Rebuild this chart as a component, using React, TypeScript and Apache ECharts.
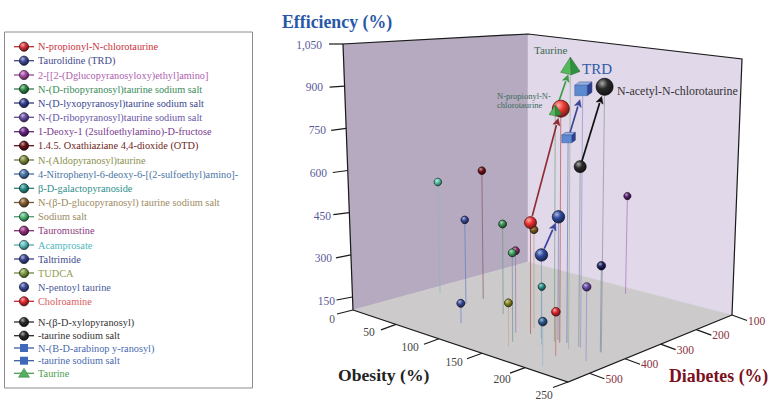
import React, { useEffect, useRef } from "react";
import * as echarts from "echarts";

const FONT = '"Liberation Serif", "Times New Roman", serif';

// ---------- values ----------
const efficiencyTicks = [0, 150, 300, 450, 600, 750, 900, 1050];
const obesityTicks = [0, 50, 100, 150, 200, 250];
const diabetesTicks = [100, 200, 300, 400, 500];

const pointNames = [
  "Acamprosate",
  "1.4.5. Oxathiaziane 4,4-dioxide (OTD)",
  "N-(D-lyxopyranosyl)taurine sodium salt",
  "N-pentoyl taurine",
  "N-(D-ribopyranosyl)taurine sodium salt (green)",
  "N-(Aldopyranosyl)taurine",
  "Tauromustine",
  "Sodium salt",
  "N-(β-D-glucopyranosyl) taurine sodium salt",
  "N-propionyl-N-chlorotaurine start",
  "Taurolidine start",
  "β-D-galactopyranoside",
  "4-Nitrophenyl-6-deoxy-6-[(2-sulfoethyl)amino]-",
  "Cholroamine",
  "N-(D-ribopyranosyl)taurine sodium salt (violet)",
  "Taltrimide",
  "1-Deoxy-1 (2sulfoethylamino)-D-fructose",
  "Taurolidine (TRD)",
  "N-acetyl-N-chlorotaurine start",
  "TRD start",
  "TRD",
  "N-acetyl-N-chlorotaurine",
  "N-propionyl-N-chlorotaurine",
  "Taurine start",
  "Taurine",
];
const obesityValues = [14, 51, 51, 85, 93, 155, 135, 149, 137, 146, 160, 172, 208, 200, 228, 222, 133, 174, 199, 185, 202, 224, 180, 175, 196];
const diabetesValues = [362, 330, 376, 466, 371, 499, 433, 474, 388, 418, 421, 448, 530, 475, 457, 403, 130, 408, 409, 409, 411, 405, 417, 420, 430];
const efficiencyValues = [521, 582, 413, 174, 429, 251, 388, 406, 448, 489, 389, 300, 247, 250, 348, 393, 481, 526, 714, 800, 975, 996, 902, 889, 1050];

const arrowFrom = ["N-propionyl-N-chlorotaurine start", "Taurolidine start", "N-acetyl-N-chlorotaurine start", "TRD start", "Taurine start"];
const arrowTo = ["N-propionyl-N-chlorotaurine", "Taurolidine (TRD)", "N-acetyl-N-chlorotaurine", "TRD", "Taurine"];

const legendNames = [
  "N-propionyl-N-chlorotaurine",
  "Taurolidine (TRD)",
  "2-[[2-(Dglucopyranosyloxy)ethyl]amino]",
  "N-(D-ribopyranosyl)taurine sodium salt",
  "N-(D-lyxopyranosyl)taurine sodium salt",
  "N-(D-ribopyranosyl)taurine sodium salt",
  "1-Deoxy-1 (2sulfoethylamino)-D-fructose",
  "1.4.5. Oxathiaziane 4,4-dioxide (OTD)",
  "N-(Aldopyranosyl)taurine",
  "4-Nitrophenyl-6-deoxy-6-[(2-sulfoethyl)amino]-",
  "β-D-galactopyranoside",
  "N-(β-D-glucopyranosyl) taurine sodium salt",
  "Sodium salt",
  "Tauromustine",
  "Acamprosate",
  "Taltrimide",
  "TUDCA",
  "N-pentoyl taurine",
  "Cholroamine",
  "N-(β-D-xylopyranosyl)",
  "-taurine sodium salt",
  "N-(B-D-arabinop y-ranosyl)",
  "-taurine sodium salt",
  "Taurine",
];

// ---------- styles ----------
const markerColors = ["#5cc6a6", "#701018", "#3a4a9a", "#3a4a9a", "#3a9050", "#8a8a20", "#902a70", "#40a860", "#7a5a20", "#ee3030", "#2f4aa0", "#2a908a", "#285a90", "#e02830", "#6a4aa8", "#1d2060", "#5a2070", "#2f4aa0", "#2a2a2a", "#5b8ad0", "#5b8ad0", "#2a2a2a", "#ee3a30", "#55b85a", "#55b85a"];
const stemColors = ["#8fb5b5", "#8a5060", "#5a7ec0", "#5a80c8", "#6a9a80", "#c0a888", "#a868c0", "#609a88", "#b0a080", "#a84848", "#8098b0", "#80a8b8", "#88b8c8", "#c06050", "#9088cc", "#7a8aa0", "#a070b8", "#6a7ec0", "#808888", "#6a70b8", "#8a90cc", "#8a9090", "#b04848", "#70a070", "#90b090"];
const markerSizes = [3.8, 3.8, 3.8, 4, 4, 4, 4, 4, 4, 6, 6.2, 3.7, 4.3, 4.3, 4.2, 4.2, 3.6, 6.2, 6, 6.3, 8, 8.5, 8.5, 6, 9.5];
const markerShapes = ["o", "o", "o", "o", "o", "o", "o", "o", "o", "o", "o", "o", "o", "o", "o", "o", "o", "o", "o", "c", "c", "o", "o", "t", "t"];
const arrowColors = ["#8f2b30", "#3a459a", "#111111", "#3a459a", "#3f9a45"];
const arrowGaps = [[7, 10], [7, 7], [6, 10], [5, 10], [3, 7]];

const legendTextColors = ["#c8323c", "#3f4a8a", "#b060b0", "#3a8a58", "#3a4690", "#6a55a8", "#7a3a90", "#6e1e22", "#8a9150", "#4a75a5", "#2f8f8a", "#a08a60", "#9a8a60", "#8e3a80", "#50b8c0", "#3e4a90", "#8fa050", "#4a5a9a", "#d85a60", "#333333", "#333333", "#4a6ab0", "#4a6ab0", "#4aa050"];
const legendIconColors = ["#d83035", "#3f4c9c", "#a84ea8", "#2f8a48", "#333f90", "#6a4fa8", "#6a2488", "#6a1018", "#7c8a38", "#4a78b0", "#2a908a", "#86602f", "#50b878", "#963080", "#5cc0c0", "#3a4696", "#7c9a40", "#3a4c9a", "#e02830", "#2a2a2a", "#2a2a2a", "#3f68b8", "#3f68b8", "#55b060"];
const legendShapes = ["o", "o", "o", "o", "o", "o", "o", "o", "o", "o", "o", "o", "o", "o", "o", "o", "o", "n", "o", "o", "o", "c", "c", "t"];
const legendRowY = [46.7, 60.7, 75, 89, 103, 117.3, 131.7, 145.7, 160, 174, 188.3, 202.5, 216.7, 230.7, 245, 259, 273, 287, 301.3, 322, 335.7, 348, 360.7, 373.3];

// ---------- 3D frame projection ----------
const DIABETES_FRONT = 560;
const OBESITY_MAX = 250;
const EFFICIENCY_MAX = 1050;
const floorBack = [528, 262];
const floorLeft = [353, 310];
const floorRight = [732, 315];
const floorFront = [568, 382];
const riseBack = [0, -228];
const riseLeft = [-10, -266];
const riseRight = [10, -256];
const riseFront = [2, -300];

function bilinear(a: number[], b: number[], c: number[], d: number[], o: number, t: number, k: number) {
  return (1 - o) * (1 - t) * a[k] + o * (1 - t) * b[k] + (1 - o) * t * c[k] + o * t * d[k];
}
function heightFraction(z: number) {
  return z <= 150 ? (z / 150) * 0.049 : 0.049 + ((z - 150) / 900) * 0.951;
}
function project(ob: number, di: number, ef: number): number[] {
  const o = ob / OBESITY_MAX;
  const t = (di - 100) / (DIABETES_FRONT - 100);
  const f = heightFraction(ef);
  return [0, 1].map(
    (k) =>
      bilinear(floorBack, floorRight, floorLeft, floorFront, o, t, k) +
      f * bilinear(riseBack, riseRight, riseLeft, riseFront, o, t, k)
  );
}

// ---------- drawing helpers ----------
function mix(hex: string, target: number, amt: number) {
  const n = parseInt(hex.slice(1), 16);
  const c = [(n >> 16) & 255, (n >> 8) & 255, n & 255].map((v) => Math.round(v + (target - v) * amt));
  return `rgb(${c[0]},${c[1]},${c[2]})`;
}
function sphereFill(color: string) {
  return new echarts.graphic.RadialGradient(0.36, 0.3, 0.72, [
    { offset: 0, color: mix(color, 255, 0.6) },
    { offset: 0.45, color: color },
    { offset: 1, color: mix(color, 0, 0.55) },
  ]);
}
function sphere(x: number, y: number, r: number, color: string) {
  return {
    type: "circle",
    shape: { cx: x, cy: y, r },
    style: { fill: sphereFill(color), stroke: mix(color, 0, 0.75), lineWidth: 0.7 },
  };
}
function poly(points: number[][], fill: string, stroke?: string, lineWidth = 0.5) {
  return { type: "polygon", shape: { points }, style: { fill, stroke: stroke || fill, lineWidth } };
}
function cube(x: number, y: number, s: number, color: string) {
  const w = s * 1.55;
  const dx = s * 0.6;
  const dy = s * 0.42;
  const l = x - s;
  const t = y - s * 0.62;
  return [
    poly([[l + w, t], [l + w + dx, t - dy], [l + w + dx, t + w - dy - 2], [l + w, t + w - 2]], "#2e3f92", "#2b3570"),
    poly([[l, t], [l + dx, t - dy], [l + w + dx, t - dy], [l + w, t]], mix(color, 255, 0.35), "#3a4a90"),
    poly([[l, t], [l + w, t], [l + w, t + w - 2], [l, t + w - 2]], color, "#3a5a9a"),
  ];
}
function pyramid(x: number, y: number, s: number, color: string) {
  const apex = [x, y - s * 1.15];
  const left = [x - s * 1.02, y + s * 0.45];
  const mid = [x + s * 0.12, y + s * 0.7];
  const right = [x + s * 1.02, y + s * 0.35];
  return [
    poly([apex, left, mid], color, "#2a6a35"),
    poly([apex, mid, right], "#2f9040", "#2a6a35"),
  ];
}
function serifText(text: string, x: number, y: number, size: number, fill: string, align = "left", weight = "normal") {
  return {
    type: "text",
    silent: true,
    style: {
      text,
      x,
      y,
      fill,
      font: `${weight} ${size}px ${FONT}`,
      align,
      verticalAlign: "middle",
      textAlign: align,
      textVerticalAlign: "middle",
    },
  };
}

// ---------- tick label placement ----------
const effLabelRight = [335, 335, 332, 331, 327, 326, 323, 322];
const effLabelY = [319, 301, 258, 216, 173, 130, 87, 45];
const effTickLength = [[-16, 4], [-16, 3], [-15, 3], [-16, 2], [-15, 2], [-15, 2], [-15, 1], [-14, 0]];
const obLabelOffset = [[0, 0], [-27, 8], [-29, 8], [-28, 9], [-23, 11], [-24, 13]];

function frameItem() {
  const L = project(0, DIABETES_FRONT, 0);
  const B = project(0, 100, 0);
  const R = project(OBESITY_MAX, 100, 0);
  const F = project(OBESITY_MAX, DIABETES_FRONT, 0);
  const Lt = project(0, DIABETES_FRONT, EFFICIENCY_MAX);
  const Bt = project(0, 100, EFFICIENCY_MAX);
  const Rt = project(OBESITY_MAX, 100, EFFICIENCY_MAX);
  const axis = { stroke: "#1a1a1a", lineWidth: 1.2, fill: "none" };
  const children: any[] = [
    poly([L, Lt, Bt, B], "#b5aac0"),
    poly([B, Bt, Rt, R], "#e1d8ea"),
    poly([B, L, F, R], "#cdcacc"),
    { type: "polyline", shape: { points: [L, Lt, Bt, Rt, R] }, style: axis },
    { type: "polyline", shape: { points: [L, F, R] }, style: axis },
  ];
  efficiencyTicks.forEach((v, i) => {
    const p = project(0, DIABETES_FRONT, v);
    children.push({
      type: "line",
      shape: { x1: p[0], y1: p[1], x2: p[0] + effTickLength[i][0], y2: p[1] + effTickLength[i][1] },
      style: { stroke: "#1a1a1a", lineWidth: 1.2 },
    });
    const label = v >= 1000 ? v.toLocaleString("en-US") : String(v);
    children.push(serifText(label, effLabelRight[i], effLabelY[i], 11.5, v === 0 ? "#555566" : "#5a5a9a", "right"));
  });
  obesityTicks.forEach((v, i) => {
    if (v === 0) return;
    const p = project(v, DIABETES_FRONT, 0);
    children.push({
      type: "line",
      shape: { x1: p[0], y1: p[1], x2: p[0] - 15, y2: p[1] + 5.5 },
      style: { stroke: "#1a1a1a", lineWidth: 1.2 },
    });
    children.push(serifText(String(v), p[0] + obLabelOffset[i][0], p[1] + obLabelOffset[i][1], 11.5, "#444444", "center"));
  });
  diabetesTicks.forEach((v) => {
    const p = project(OBESITY_MAX, v, 0);
    children.push({
      type: "line",
      shape: { x1: p[0], y1: p[1], x2: p[0] + 15, y2: p[1] + 5.5 },
      style: { stroke: "#1a1a1a", lineWidth: 1.2 },
    });
    children.push(serifText(String(v), p[0] + 16, p[1] + 5.5, 11.5, "#8a3040", "left"));
  });
  return { type: "group", children };
}

function stemItem(i: number) {
  const top = project(obesityValues[i], diabetesValues[i], efficiencyValues[i]);
  const base = project(obesityValues[i], diabetesValues[i], 0);
  return {
    type: "line",
    shape: { x1: top[0], y1: top[1], x2: base[0], y2: base[1] },
    style: { stroke: stemColors[i], lineWidth: 0.8, opacity: 0.85 },
  };
}

function arrowItem(i: number) {
  const a = pointNames.indexOf(arrowFrom[i]);
  const b = pointNames.indexOf(arrowTo[i]);
  const p = project(obesityValues[a], diabetesValues[a], efficiencyValues[a]);
  const q = project(obesityValues[b], diabetesValues[b], efficiencyValues[b]);
  const len = Math.hypot(q[0] - p[0], q[1] - p[1]);
  const ux = (q[0] - p[0]) / len;
  const uy = (q[1] - p[1]) / len;
  const tail = [p[0] + ux * arrowGaps[i][0], p[1] + uy * arrowGaps[i][0]];
  const tip = [q[0] - ux * arrowGaps[i][1], q[1] - uy * arrowGaps[i][1]];
  const back = [tip[0] - ux * 7, tip[1] - uy * 7];
  const color = arrowColors[i];
  return {
    type: "group",
    children: [
      {
        type: "line",
        shape: { x1: tail[0], y1: tail[1], x2: back[0], y2: back[1] },
        style: { stroke: color, lineWidth: 1.7 },
      },
      poly([tip, [back[0] - uy * 3.6, back[1] + ux * 3.6], [back[0] + ux * 1.5, back[1] + uy * 1.5], [back[0] + uy * 3.6, back[1] - ux * 3.6]], color),
    ],
  };
}

function markerItem(i: number) {
  const p = project(obesityValues[i], diabetesValues[i], efficiencyValues[i]);
  const s = markerSizes[i];
  if (markerShapes[i] === "c") return { type: "group", children: cube(p[0], p[1], s, markerColors[i]) };
  if (markerShapes[i] === "t") return { type: "group", children: pyramid(p[0], p[1], s, markerColors[i]) };
  return sphere(p[0], p[1], s, markerColors[i]);
}

function legendElements() {
  const els: any[] = [
    {
      type: "rect",
      shape: { x: 4.5, y: 32, width: 248, height: 356 },
      style: { fill: "#ffffff", stroke: "#8c8c8c", lineWidth: 1 },
    },
  ];
  legendNames.forEach((name, i) => {
    const y = legendRowY[i];
    const c = legendIconColors[i];
    if (legendShapes[i] !== "n") {
      els.push({ type: "line", shape: { x1: 14, y1: y, x2: 34, y2: y }, style: { stroke: mix(c, 40, 0.15), lineWidth: 1.3 } });
    }
    if (legendShapes[i] === "c") {
      els.push({ type: "rect", shape: { x: 20, y: y - 4, width: 8, height: 8 }, style: { fill: c } });
    } else if (legendShapes[i] === "t") {
      els.push(poly([[24, y - 5], [18.5, y + 4], [29.5, y + 4]], c, "#2f7a3a"));
    } else {
      els.push(sphere(24, y, 4.6, c));
    }
    els.push(serifText(name, 38, y, 10.3, legendTextColors[i]));
  });
  return els;
}

const annotations = [
  { text: "Taurine", x: 534, y: 50, size: 11, fill: "#3a6a50" },
  { text: "TRD", x: 582, y: 69, size: 15, fill: "#2c5aa8" },
  { text: "N-acetyl-N-chlorotaurine", x: 617, y: 91, size: 11.9, fill: "#333333" },
  { text: "N-propionyl-N-", x: 497, y: 96, size: 8.5, fill: "#3a6a5a" },
  { text: "chlorotaurine", x: 497, y: 104.5, size: 8.5, fill: "#3a6a5a" },
];

export default function App() {
  const ref = useRef<HTMLDivElement | null>(null);
  useEffect(() => {
    if (!ref.current) return;
    const chart = echarts.init(ref.current, undefined, { renderer: "svg" });
    const pointRows = obesityValues.map((o, i) => [o, diabetesValues[i], efficiencyValues[i]]);
    chart.setOption({
      animation: false,
      backgroundColor: "#ffffff",
      graphic: {
        elements: [
          ...legendElements(),
          serifText("Efficiency (%)", 282, 22, 17.8, "#2a58a8", "left", "bold"),
          serifText("Obesity (%)", 338, 375, 17.6, "#222222", "left", "bold"),
          serifText("Diabetes (%)", 669, 376, 17.8, "#7a1020", "left", "bold"),
          ...annotations.map((a) => ({ ...serifText(a.text, a.x, a.y, a.size, a.fill), z: 50 })),
        ],
      },
      series: [
        {
          type: "custom",
          name: "frame",
          coordinateSystem: "none",
          silent: true,
          z: 1,
          data: [[0]],
          renderItem: () => frameItem(),
        },
        {
          type: "custom",
          name: "stems",
          coordinateSystem: "none",
          silent: true,
          z: 2,
          data: pointRows,
          renderItem: (params: any) => stemItem(params.dataIndex),
        },
        {
          type: "custom",
          name: "arrows",
          coordinateSystem: "none",
          silent: true,
          z: 3,
          data: arrowFrom.map((n) => [n]),
          renderItem: (params: any) => arrowItem(params.dataIndex),
        },
        {
          type: "custom",
          name: "compounds",
          coordinateSystem: "none",
          silent: true,
          z: 4,
          data: pointRows,
          renderItem: (params: any) => markerItem(params.dataIndex),
        },
      ],
    });
    return () => chart.dispose();
  }, []);
  return <div ref={ref} style={{ position: "absolute", left: 0, top: 0, width: 777, height: 412 }} />;
}
